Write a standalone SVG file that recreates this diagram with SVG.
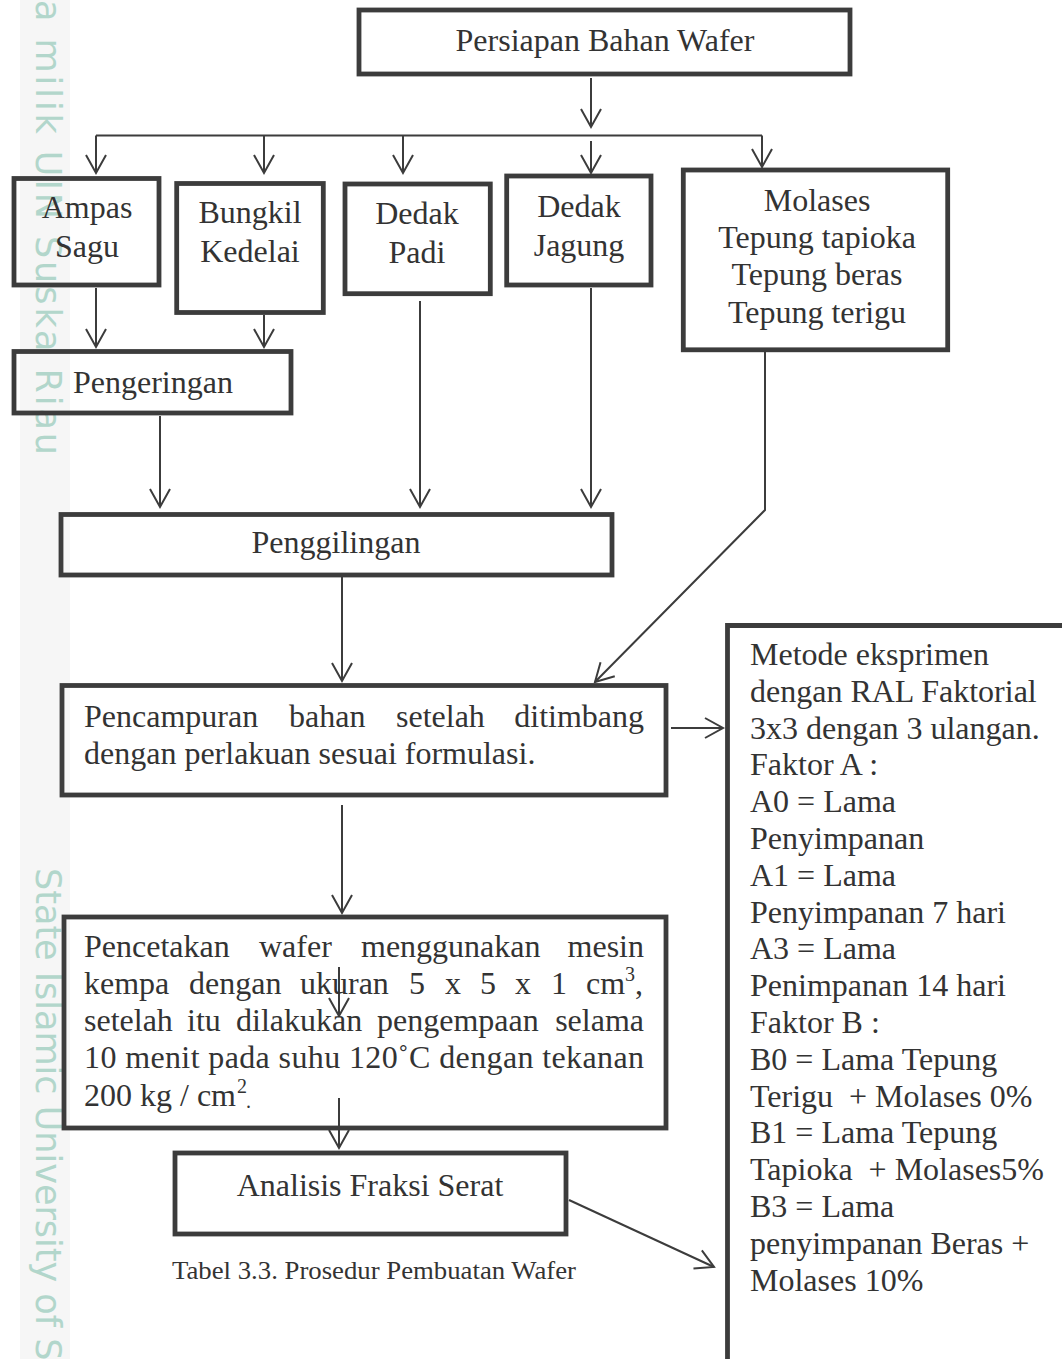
<svg xmlns="http://www.w3.org/2000/svg" width="1062" height="1359" viewBox="0 0 1062 1359">
<style>
.box{fill:none;stroke:#3c3c3c;stroke-width:4.8}
.t{font-family:"Liberation Serif","Times New Roman",serif;font-size:32px;fill:#333}
.c{text-anchor:middle}
.e{text-anchor:end}
.sup{font-family:"Liberation Serif","Times New Roman",serif;font-size:20px;fill:#333}
.cap{font-family:"Liberation Serif","Times New Roman",serif;font-size:25px;fill:#333}
.wm{font-family:"DejaVu Sans",sans-serif;font-size:35px;fill:#b2d6cb}
.ln{fill:none;stroke:#3c3c3c;stroke-width:2}
</style>
<defs>
<marker id="ah" markerUnits="userSpaceOnUse" markerWidth="40" markerHeight="40" refX="0" refY="0" orient="auto" overflow="visible">
<path d="M-18,-10 L0,0 L-18,10" fill="none" stroke="#3c3c3c" stroke-width="2"/>
</marker>
</defs>
<rect width="1062" height="1359" fill="#fff"/>
<g id="watermark">
<rect x="20" y="0" width="50" height="1359" fill="#f6f6f6"/>
<text class="wm" transform="translate(36,0) rotate(90)" x="0" y="0" textLength="455" lengthAdjust="spacing">a milik UIN Suska Riau</text>
<text class="wm" transform="translate(36,868) rotate(90)" x="0" y="0">State Islamic University of Su</text>
</g>
<g id="connectors">
<line class="ln" x1="96" y1="135.5" x2="762" y2="135.5"/>
<line class="ln" x1="591" y1="78" x2="591" y2="127" marker-end="url(#ah)"/>
<line class="ln" x1="591" y1="141" x2="591" y2="173" marker-end="url(#ah)"/>
<line class="ln" x1="96" y1="135.5" x2="96" y2="173" marker-end="url(#ah)"/>
<line class="ln" x1="264" y1="135.5" x2="264" y2="173" marker-end="url(#ah)"/>
<line class="ln" x1="403" y1="135.5" x2="403" y2="173" marker-end="url(#ah)"/>
<line class="ln" x1="762" y1="135.5" x2="762" y2="167" marker-end="url(#ah)"/>
<line class="ln" x1="96" y1="288" x2="96" y2="347" marker-end="url(#ah)"/>
<line class="ln" x1="264" y1="315" x2="264" y2="347" marker-end="url(#ah)"/>
<line class="ln" x1="160" y1="416" x2="160" y2="507" marker-end="url(#ah)"/>
<line class="ln" x1="420" y1="301" x2="420" y2="507" marker-end="url(#ah)"/>
<line class="ln" x1="591" y1="288" x2="591" y2="507" marker-end="url(#ah)"/>
<line class="ln" x1="342" y1="577" x2="342" y2="681" marker-end="url(#ah)"/>
<polyline class="ln" points="765,352 765,510 595,682" marker-end="url(#ah)"/>
<line class="ln" x1="671" y1="728" x2="723" y2="728" marker-end="url(#ah)"/>
<line class="ln" x1="342" y1="805" x2="342" y2="913" marker-end="url(#ah)"/>
<line class="ln" x1="339" y1="967" x2="339" y2="1016" marker-end="url(#ah)"/>
<line class="ln" x1="339" y1="1098" x2="339" y2="1148" marker-end="url(#ah)"/>
<line class="ln" x1="569" y1="1200" x2="714" y2="1267" marker-end="url(#ah)"/>
</g>
<g id="persiapan">
<rect class="box" x="359" y="10" width="491" height="64"/>
<text class="t c" x="605" y="51">Persiapan Bahan Wafer</text>
</g>
<g id="ampas">
<rect class="box" x="14" y="178.5" width="145" height="106.5"/>
<text class="t c" x="87" y="218">Ampas</text>
<text class="t c" x="87" y="257">Sagu</text>
</g>
<g id="bungkil">
<rect class="box" x="176.7" y="183.5" width="146.6" height="129"/>
<text class="t c" x="250" y="223">Bungkil</text>
<text class="t c" x="250" y="262">Kedelai</text>
</g>
<g id="dedakpadi">
<rect class="box" x="345" y="184" width="145.3" height="109.7"/>
<text class="t c" x="417" y="224">Dedak</text>
<text class="t c" x="417" y="263">Padi</text>
</g>
<g id="dedakjagung">
<rect class="box" x="506.7" y="176" width="144.3" height="109"/>
<text class="t c" x="579" y="217">Dedak</text>
<text class="t c" x="579" y="256">Jagung</text>
</g>
<g id="molases">
<rect class="box" x="683.3" y="170" width="264.4" height="179.8"/>
<text class="t c" x="817" y="211">Molases</text>
<text class="t c" x="817" y="248">Tepung tapioka</text>
<text class="t c" x="817" y="285">Tepung beras</text>
<text class="t c" x="817" y="323">Tepung terigu</text>
</g>
<g id="pengeringan">
<rect class="box" x="14" y="351.5" width="277" height="61.5"/>
<text class="t" x="73" y="393">Pengeringan</text>
</g>
<g id="penggilingan">
<rect class="box" x="61" y="514.5" width="551" height="60.5"/>
<text class="t c" x="336" y="553">Penggilingan</text>
</g>
<g id="pencampuran">
<rect class="box" x="62" y="685.5" width="604" height="109.5"/>
<text class="t" x="84" y="727">Pencampuran</text>
<text class="t" x="289" y="727">bahan</text>
<text class="t" x="396" y="727">setelah</text>
<text class="t e" x="644" y="727">ditimbang</text>
<text class="t" x="84" y="764">dengan perlakuan sesuai formulasi.</text>
</g>
<g id="metode">
<path class="box" d="M1070,625.5 L727.5,625.5 L727.5,1370"/>
<text class="t" x="750" y="665">Metode eksprimen</text>
<text class="t" x="750" y="702">dengan RAL Faktorial</text>
<text class="t" x="750" y="739">3x3 dengan 3 ulangan.</text>
<text class="t" x="750" y="775">Faktor A :</text>
<text class="t" x="750" y="812">A0 = Lama</text>
<text class="t" x="750" y="849">Penyimpanan</text>
<text class="t" x="750" y="886">A1 = Lama</text>
<text class="t" x="750" y="923">Penyimpanan 7 hari</text>
<text class="t" x="750" y="959">A3 = Lama</text>
<text class="t" x="750" y="996">Penimpanan 14 hari</text>
<text class="t" x="750" y="1033">Faktor B :</text>
<text class="t" x="750" y="1070">B0 = Lama Tepung</text>
<text class="t" x="750" y="1107" xml:space="preserve">Terigu  + Molases 0%</text>
<text class="t" x="750" y="1143">B1 = Lama Tepung</text>
<text class="t" x="750" y="1180" xml:space="preserve">Tapioka  + Molases5%</text>
<text class="t" x="750" y="1217">B3 = Lama</text>
<text class="t" x="750" y="1254">penyimpanan Beras +</text>
<text class="t" x="750" y="1291">Molases 10%</text>
</g>
<g id="pencetakan">
<rect class="box" x="64" y="917" width="602" height="211"/>
<text class="t" x="84" y="957">Pencetakan</text>
<text class="t" x="259" y="957">wafer</text>
<text class="t" x="361" y="957">menggunakan</text>
<text class="t e" x="644" y="957">mesin</text>
<text class="t" x="84" y="994">kempa</text>
<text class="t" x="189" y="994">dengan</text>
<text class="t" x="300" y="994">ukuran</text>
<text class="t" x="409" y="994">5</text>
<text class="t" x="445" y="994">x</text>
<text class="t" x="480" y="994">5</text>
<text class="t" x="515" y="994">x</text>
<text class="t" x="551" y="994">1</text>
<text class="t" x="586" y="994">cm</text>
<text class="sup" x="625" y="981">3</text>
<text class="t" x="635" y="994">,</text>
<text class="t" x="84" y="1031">setelah</text>
<text class="t" x="187" y="1031">itu</text>
<text class="t" x="236" y="1031">dilakukan</text>
<text class="t" x="377" y="1031">pengempaan</text>
<text class="t e" x="644" y="1031">selama</text>
<text class="t" x="84" y="1068" textLength="560" lengthAdjust="spacing">10 menit pada suhu 120˚C dengan tekanan</text>
<text class="t" x="84" y="1106">200 kg / cm</text>
<text class="sup" x="237" y="1093">2</text>
<text class="sup" x="246" y="1108">.</text>
</g>
<g id="analisis">
<rect class="box" x="175" y="1153" width="391" height="81"/>
<text class="t c" x="370" y="1196">Analisis Fraksi Serat</text>
</g>
<g id="caption">
<text class="cap" x="172" y="1279" textLength="404" lengthAdjust="spacingAndGlyphs">Tabel 3.3. Prosedur Pembuatan Wafer</text>
</g>
</svg>
